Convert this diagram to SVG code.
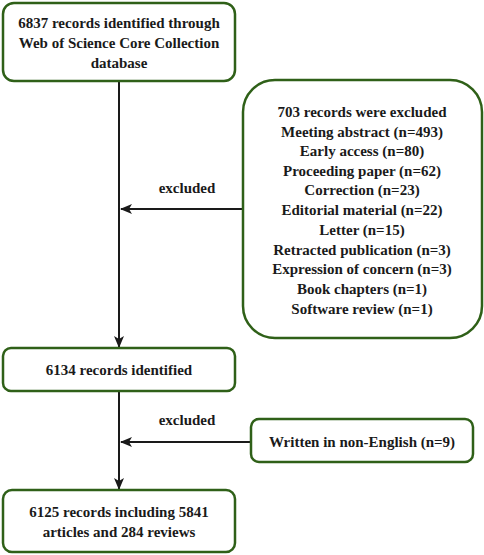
<svg xmlns="http://www.w3.org/2000/svg" width="484" height="555" viewBox="0 0 484 555">
<defs>
<style>
.box{fill:#fff;stroke:#2f6018;stroke-width:2.5}
.t{font-family:'Liberation Serif','Times New Roman',Times,serif;font-weight:bold;font-size:15px;fill:#1a1a1a;text-anchor:middle}
.ln{stroke:#1a1a1a;stroke-width:2;fill:none}
</style>
<marker id="ah" viewBox="0 0 12 10" refX="11" refY="5" markerWidth="6" markerHeight="5" orient="auto" markerUnits="strokeWidth">
<path d="M0,0 L12,5 L0,10 L3,5 Z" fill="#1a1a1a"/>
</marker>
</defs>
<rect width="484" height="555" fill="#fff"/>
<g id="connectors">
<line class="ln" x1="119" y1="81" x2="119" y2="347" marker-end="url(#ah)"/>
<line class="ln" x1="243" y1="209" x2="121" y2="209" marker-end="url(#ah)"/>
<line class="ln" x1="119" y1="391" x2="119" y2="489" marker-end="url(#ah)"/>
<line class="ln" x1="251" y1="442" x2="121" y2="442" marker-end="url(#ah)"/>
<text class="t" x="187" y="193">excluded</text>
<text class="t" x="187" y="425">excluded</text>
</g>
<g id="n1">
<rect class="box" x="3" y="3" width="232" height="78" rx="11"/>
<text class="t" x="119" y="28">6837 records identified through</text>
<text class="t" x="119" y="48">Web of Science Core Collection</text>
<text class="t" x="119" y="68">database</text>
</g>
<g id="n2">
<rect class="box" x="243" y="80" width="239" height="258" rx="32"/>
<text class="t" x="362" y="117">703 records were excluded</text>
<text class="t" x="362" y="137">Meeting abstract (n=493)</text>
<text class="t" x="362" y="156">Early access (n=80)</text>
<text class="t" x="362" y="176">Proceeding paper (n=62)</text>
<text class="t" x="362" y="195">Correction (n=23)</text>
<text class="t" x="362" y="215">Editorial material (n=22)</text>
<text class="t" x="362" y="235">Letter (n=15)</text>
<text class="t" x="362" y="255">Retracted publication (n=3)</text>
<text class="t" x="362" y="274">Expression of concern (n=3)</text>
<text class="t" x="362" y="294">Book chapters (n=1)</text>
<text class="t" x="362" y="314">Software review (n=1)</text>
</g>
<g id="n3">
<rect class="box" x="3" y="348" width="232" height="43" rx="8"/>
<text class="t" x="119" y="375">6134 records identified</text>
</g>
<g id="n4">
<rect class="box" x="251" y="419" width="222" height="43" rx="8"/>
<text class="t" x="362" y="447">Written in non-English (n=9)</text>
</g>
<g id="n5">
<rect class="box" x="3" y="490" width="232" height="62" rx="9"/>
<text class="t" x="119" y="517">6125 records including 5841</text>
<text class="t" x="119" y="537">articles and 284 reviews</text>
</g>
</svg>
